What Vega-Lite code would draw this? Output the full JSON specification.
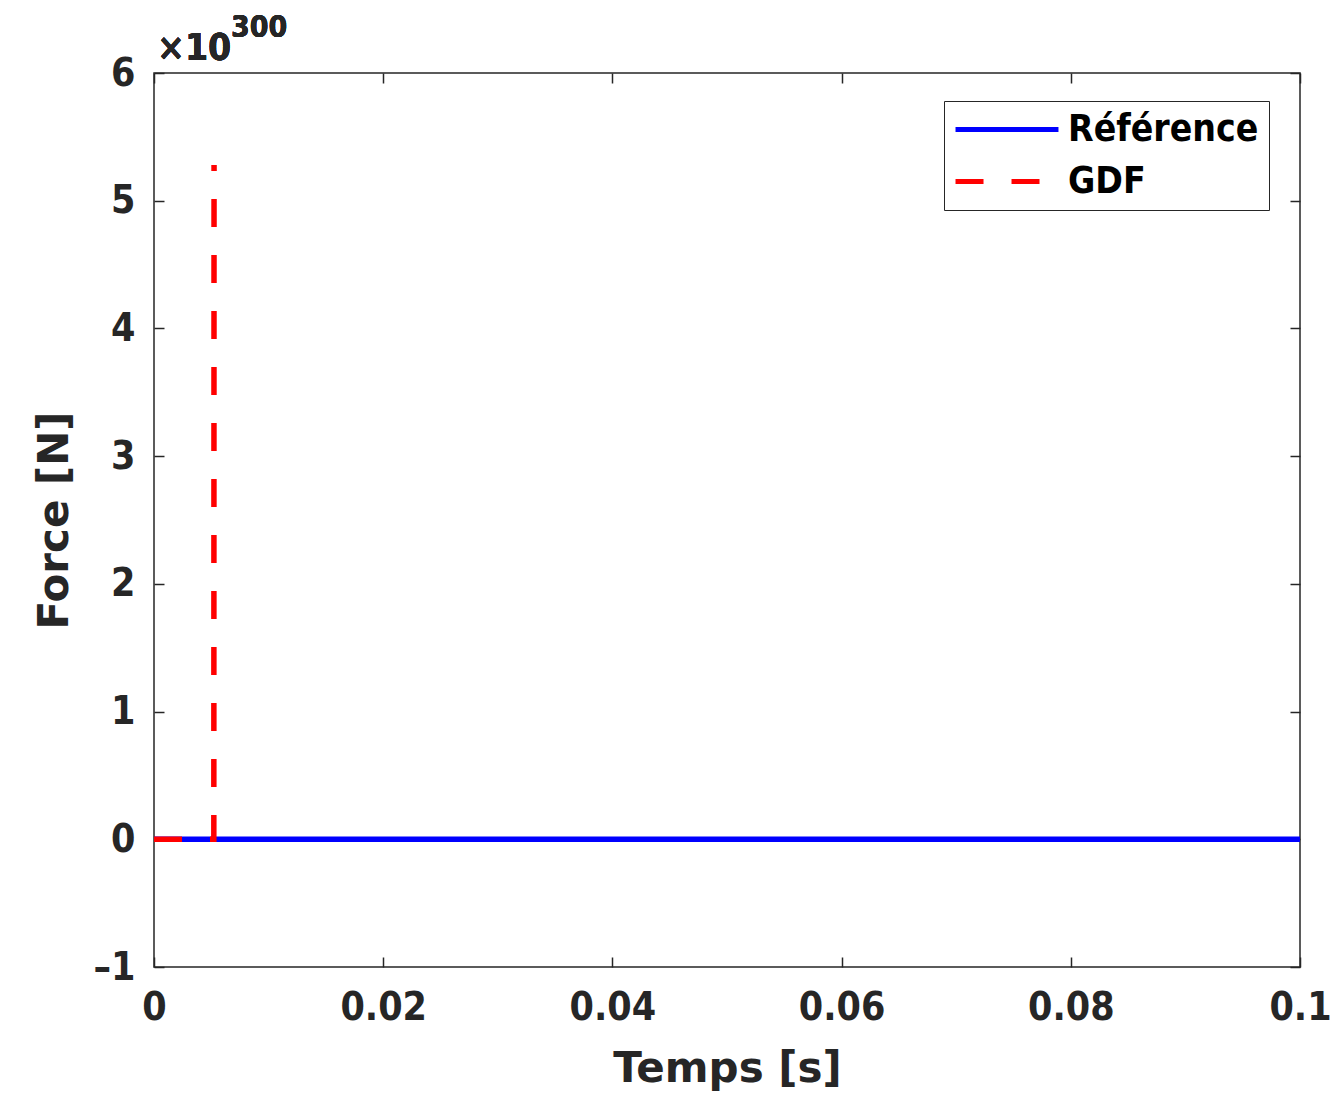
{
  "$schema": "https://vega.github.io/schema/vega-lite/v6.json",
  "width": 1146,
  "height": 894,
  "autosize": "none",
  "padding": {"left": 154, "top": 73, "right": 33, "bottom": 131},
  "background": "white",
  "config": {
    "view": {"stroke": "#262626", "strokeWidth": 1.5},
    "axis": {
      "grid": false,
      "domain": false,
      "offset": -10,
      "tickColor": "#262626",
      "tickWidth": 1.5,
      "tickSize": 10,
      "labelColor": "#262626",
      "titleColor": "#262626",
      "labelFont": "'DejaVu Sans Condensed', 'DejaVu Sans'",
      "labelFontWeight": "bold",
      "labelFontSize": 39,
      "labelFlush": false,
      "titleFont": "'DejaVu Sans'",
      "titleFontWeight": "bold",
      "titleFontSize": 42
    }
  },
  "datasets": {
    "series": [
      {"t": 0, "F": 0, "serie": "Référence"},
      {"t": 0.1, "F": 0, "serie": "Référence"},
      {"t": 0, "F": 0, "serie": "GDF"},
      {"t": 0.00522, "F": 0, "serie": "GDF"},
      {"t": 0.00524, "F": 5.28, "serie": "GDF"}
    ]
  },
  "resolve": {"scale": {"x": "independent", "y": "independent"}},
  "layer": [
    {
      "layer": [
        {
          "data": {"name": "series"},
          "transform": [{"filter": "datum.serie == 'Référence'"}],
          "mark": {"type": "line", "strokeWidth": 5.5},
          "encoding": {
            "x": {"field": "t", "type": "quantitative", "scale": {"domain": [0, 0.1], "nice": false},
                  "axis": {"orient": "bottom", "values": [0, 0.02, 0.04, 0.06, 0.08, 0.1], "format": ".2~f", "title": "Temps [s]", "labelPadding": 21, "titlePadding": 21}},
            "y": {"field": "F", "type": "quantitative", "scale": {"domain": [-1, 6], "nice": false},
                  "axis": {"orient": "left", "values": [-1, 0, 1, 2, 3, 4, 5, 6], "labelExpr": "datum.value < 0 ? '–' + abs(datum.value) : '' + datum.value", "title": "Force [N]", "labelPadding": 19, "titlePadding": 17}},
            "color": {"field": "serie", "type": "nominal",
                      "scale": {"domain": ["Référence", "GDF"], "range": ["#0000ff", "#ff0000"]},
                      "legend": {"title": null, "orient": "none", "legendX": 790, "legendY": 28,
                                 "symbolType": "M-1.65,0H8.35", "symbolSize": 424, "symbolStrokeWidth": 5,
                                 "labelFont": "'DejaVu Sans Condensed', 'DejaVu Sans'", "labelFontWeight": "bold",
                                 "labelFontSize": 37, "labelColor": "#000000", "labelOffset": 77,
                                 "padding": 10, "rowPadding": 14, "strokeColor": "#262626", "fillColor": "white", "labelLimit": 400}},
            "strokeDash": {"field": "serie", "type": "nominal",
                           "scale": {"domain": ["Référence", "GDF"], "range": [[1, 0], [28, 28]]},
                           "legend": null}
          }
        },
        {
          "data": {"name": "series"},
          "transform": [{"filter": "datum.serie == 'GDF'"}],
          "mark": {"type": "line", "strokeWidth": 5.5},
          "encoding": {
            "x": {"field": "t", "type": "quantitative"},
            "y": {"field": "F", "type": "quantitative"},
            "color": {"field": "serie", "type": "nominal"},
            "strokeDash": {"field": "serie", "type": "nominal"}
          }
        },
        {
          "data": {"name": "series"},
          "mark": {"type": "text", "text": "×10", "align": "left", "baseline": "alphabetic", "fontSize": 37, "fontWeight": "bold", "font": "'DejaVu Sans Condensed', 'DejaVu Sans'", "color": "#262626", "dx": 3, "dy": -13},
          "encoding": {"x": {"datum": 0}, "y": {"datum": 6}}
        },
        {
          "data": {"name": "series"},
          "mark": {"type": "text", "text": "300", "align": "left", "baseline": "alphabetic", "fontSize": 30, "fontWeight": "bold", "font": "'DejaVu Sans Condensed', 'DejaVu Sans'", "color": "#262626", "dx": 77, "dy": -36},
          "encoding": {"x": {"datum": 0}, "y": {"datum": 6}}
        }
      ]
    },
    {
      "data": {"name": "series"},
      "mark": {"type": "point", "opacity": 0},
      "encoding": {
        "x": {"field": "t", "type": "quantitative", "scale": {"domain": [0, 0.1], "nice": false},
              "axis": {"orient": "top", "values": [0, 0.02, 0.04, 0.06, 0.08, 0.1], "labels": false, "title": null}},
        "y": {"field": "F", "type": "quantitative", "scale": {"domain": [-1, 6], "nice": false},
              "axis": {"orient": "right", "values": [-1, 0, 1, 2, 3, 4, 5, 6], "labels": false, "title": null}}
      }
    }
  ]
}
